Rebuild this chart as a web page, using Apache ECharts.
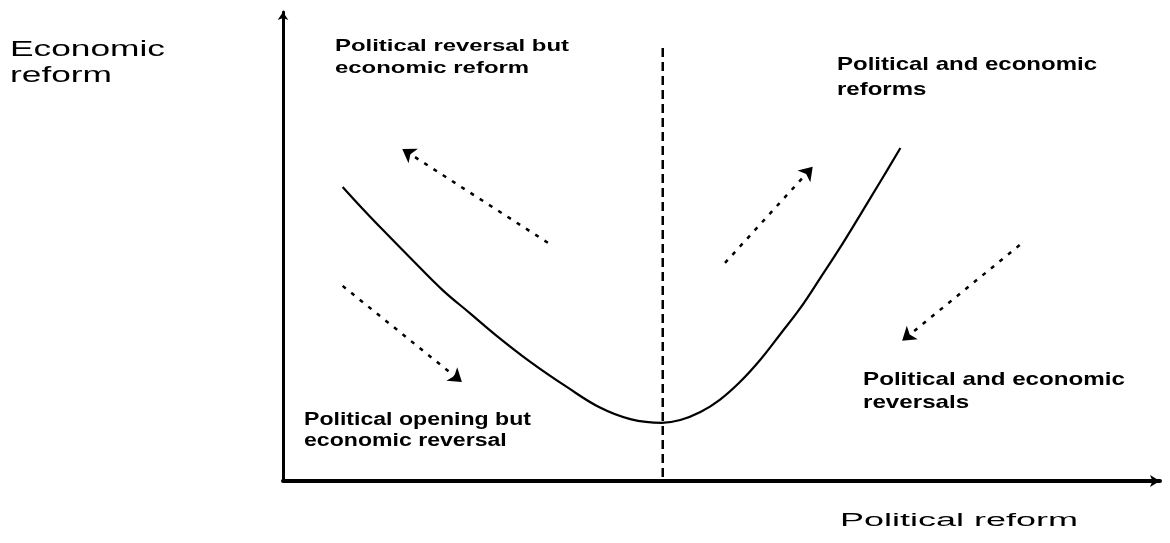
<!DOCTYPE html>
<html>
<head>
<meta charset="utf-8">
<script src="https://cdn.jsdelivr.net/npm/echarts@6/dist/echarts.min.js"></script>
<style>
html,body{margin:0;padding:0;background:#fff;}
#chart{width:1170px;height:543px;}
</style>
</head>
<body>
<div id="chart"></div>
<script>
// U-shaped relationship curve (x = political reform, y = economic reform), 0-100 conceptual scale
const curveX = [6.8, 9.1, 11.4, 14.5, 18.2, 21.3, 24.4, 28.2, 32.4, 36.2, 39.6, 43.2, 45.3, 47.6, 49.8, 52.1, 54.4, 56.7, 59.0, 61.2, 63.5, 65.8, 68.1, 70.4];
const curveY = [62.7, 58.0, 53.5, 47.6, 40.7, 35.8, 30.9, 25.4, 20.0, 15.6, 13.2, 12.4, 13.0, 14.7, 17.3, 21.1, 25.8, 31.3, 36.9, 43.1, 49.7, 56.7, 63.8, 71.0];

// divider between the two halves
const dividerX = 43.3;
const dividerTop = 92.3;

// dashed arrows: [fromX, fromY, toX, toY]
const arrowFrom = [[30.2, 50.8], [6.8, 41.6], [50.4, 46.5], [84.0, 50.3]];
const arrowTo   = [[13.6, 70.8], [20.4, 21.1], [60.4, 67.0], [70.6, 29.9]];

// text labels
const axisNameY = ['Economic', 'reform'];
const axisNameX = ['Political reform'];
const quadrantTexts = [
  ['Political reversal but', 'economic reform'],
  ['Political and economic', 'reforms'],
  ['Political opening but', 'economic reversal'],
  ['Political and economic', 'reversals']
];

const chart = echarts.init(document.getElementById('chart'), null, {renderer: 'canvas'});

const cv = document.createElement('canvas').getContext('2d');
function measure(text, size, weight, family) {
  cv.font = weight + ' ' + size + 'px "' + family + '"';
  return cv.measureText(text).width;
}

// layout of text blocks (left, line centres, target width of first line, font)
const blocks = [
  {lines: axisNameY, x: 10, ys: [50, 76], w: 155, size: 22, weight: 'normal'},
  {lines: quadrantTexts[0], x: 335, ys: [46, 68.5], w: 234, size: 17, weight: 'bold'},
  {lines: quadrantTexts[1], x: 837, ys: [65, 90], w: 260, size: 19, weight: 'bold'},
  {lines: quadrantTexts[2], x: 304, ys: [420, 441], w: 227, size: 18, weight: 'bold'},
  {lines: quadrantTexts[3], x: 863, ys: [380, 403], w: 262, size: 19, weight: 'bold'},
  {lines: axisNameX, x: 840, ys: [521], w: 238, size: 18, weight: 'normal'}
];
const family = 'Liberation Sans';
const graphics = [];
blocks.forEach(b => {
  const sc = b.w / measure(b.lines[0], b.size, b.weight, family);
  b.lines.forEach((t, i) => {
    graphics.push({
      type: 'text', x: b.x, y: b.ys[i], scaleX: sc, silent: true,
      style: {text: t, fill: '#000', fontSize: b.size, fontWeight: b.weight, fontFamily: family,
              align: 'left', verticalAlign: 'middle'}
    });
  });
});

const curveData = curveX.map((x, i) => [x, curveY[i]]);
const arrowData = arrowFrom.map((f, i) => ({coords: [f, arrowTo[i]]}));

chart.setOption({
  animation: false,
  backgroundColor: '#fff',
  grid: {left: 283, right: 10, top: 12, bottom: 62},
  xAxis: {
    type: 'value', min: 0, max: 100,
    splitLine: {show: false}, axisTick: {show: false}, axisLabel: {show: false},
    axisLine: {show: true, onZero: false, symbol: ['none', 'arrow'], symbolSize: [9, 10],
               lineStyle: {color: '#000', width: 4}}
  },
  yAxis: {
    type: 'value', min: 0, max: 100,
    splitLine: {show: false}, axisTick: {show: false}, axisLabel: {show: false},
    axisLine: {show: true, onZero: false, symbol: ['none', 'arrow'], symbolSize: [8, 8],
               lineStyle: {color: '#000', width: 3}}
  },
  graphic: graphics,
  series: [
    {
      type: 'line', data: curveData, smooth: 0.4, showSymbol: false, silent: true,
      lineStyle: {color: '#000', width: 2.2}
    },
    {
      type: 'line', data: [[dividerX, dividerTop], [dividerX, 0]], showSymbol: false, silent: true,
      lineStyle: {color: '#000', width: 2.5, type: [9, 5]}
    },
    {
      type: 'lines', coordinateSystem: 'cartesian2d', data: arrowData, silent: true,
      symbol: ['none', 'arrow'], symbolSize: 13,
      lineStyle: {color: '#000', width: 2.5, type: [4, 7], opacity: 1}
    }
  ]
});
</script>
</body>
</html>
